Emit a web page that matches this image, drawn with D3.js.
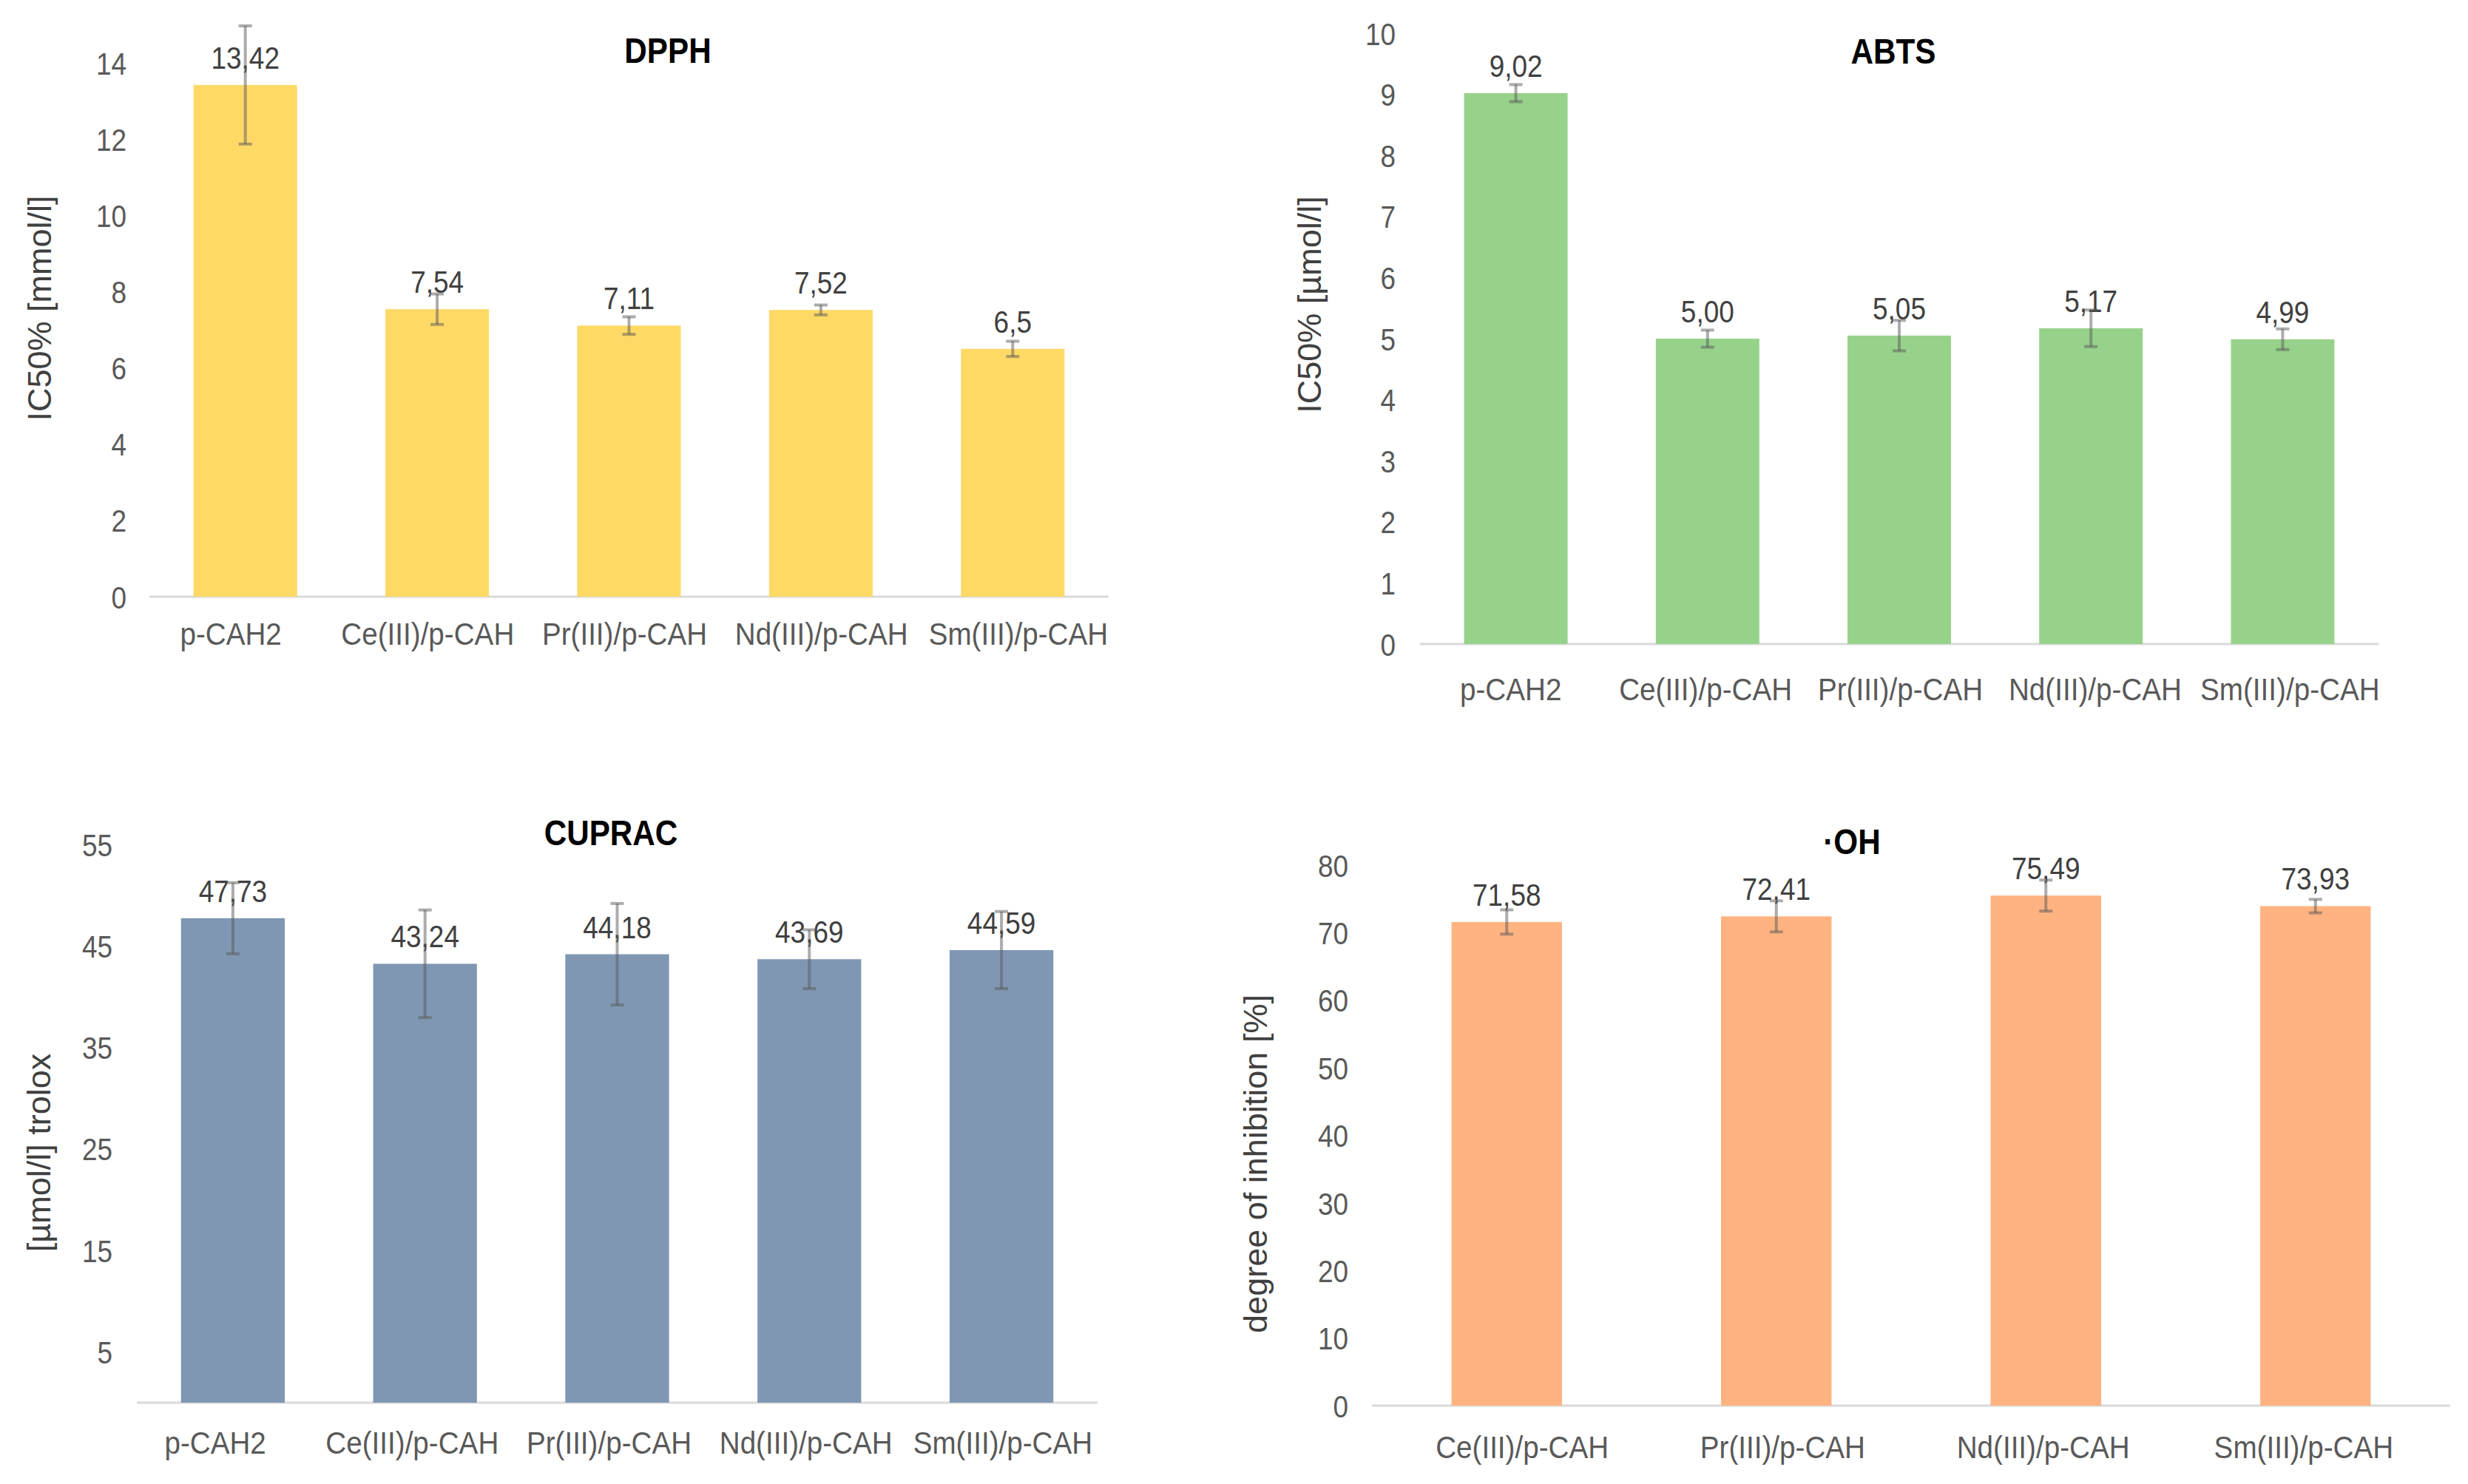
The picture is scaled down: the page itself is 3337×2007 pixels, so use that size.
<!DOCTYPE html>
<html>
<head>
<meta charset="utf-8">
<script src="https://cdn.jsdelivr.net/npm/d3@7"></script>
<style>
  html, body { margin: 0; padding: 0; background: #ffffff; }
  svg { display: block; }
</style>
</head>
<body>
<svg id="chart" width="3337" height="2007"></svg>
<script>
// ---------------- DATA ----------------
const categories5 = ["p-CAH2", "Ce(III)/p-CAH", "Pr(III)/p-CAH", "Nd(III)/p-CAH", "Sm(III)/p-CAH"];
const categories4 = ["Ce(III)/p-CAH", "Pr(III)/p-CAH", "Nd(III)/p-CAH", "Sm(III)/p-CAH"];

const dpphValues = [13.42, 7.54, 7.11, 7.52, 6.5];
const dpphErrors = [1.55, 0.40, 0.23, 0.13, 0.20];
const dpphLabels = ["13,42", "7,54", "7,11", "7,52", "6,5"];
const dpphTicks = [0, 2, 4, 6, 8, 10, 12, 14];

const abtsValues = [9.02, 5.00, 5.05, 5.17, 4.99];
const abtsErrors = [0.14, 0.14, 0.25, 0.30, 0.17];
const abtsLabels = ["9,02", "5,00", "5,05", "5,17", "4,99"];
const abtsTicks = [0, 1, 2, 3, 4, 5, 6, 7, 8, 9, 10];

const cupracValues = [47.73, 43.24, 44.18, 43.69, 44.59];
const cupracErrors = [3.5, 5.3, 5.0, 2.9, 3.8];
const cupracLabels = ["47,73", "43,24", "44,18", "43,69", "44,59"];
const cupracTicks = [5, 15, 25, 35, 45, 55];

const ohValues = [71.58, 72.41, 75.49, 73.93];
const ohErrors = [1.8, 2.3, 2.3, 1.0];
const ohLabels = ["71,58", "72,41", "75,49", "73,93"];
const ohTicks = [0, 10, 20, 30, 40, 50, 60, 70, 80];

// ---------------- LAYOUT ----------------
const SX = 0.88; // horizontal text compression seen in the reference
const SXCAT = 0.92;
const FONT = "'Liberation Sans', Arial, Helvetica, sans-serif";

const panels = [
  { title: "DPPH", yLabel: "IC50% [mmol/l]", cats: categories5, values: dpphValues, errors: dpphErrors,
    labels: dpphLabels, ticks: dpphTicks, domain: [0, 14], color: "#FFD966",
    x0: 202, x1: 1499, yBase: 807, yTop: 85, pad: 0.46, catRange: [179, 1510],
    tickRight: 171, titleX: 903, titleY: 85, catY: 872, yLabX: 53, yLabY: 417 },
  { title: "ABTS", yLabel: "IC50% [µmol/l]", cats: categories5, values: abtsValues, errors: abtsErrors,
    labels: abtsLabels, ticks: abtsTicks, domain: [0, 10], color: "#97D28B",
    x0: 1920, x1: 3216, yBase: 871, yTop: 45, pad: 0.46, catRange: [1911, 3228],
    tickRight: 1887, titleX: 2560, titleY: 86, catY: 947, yLabX: 1770, yLabY: 412 },
  { title: "CUPRAC", yLabel: "[µmol/l] trolox", cats: categories5, values: cupracValues, errors: cupracErrors,
    labels: cupracLabels, ticks: cupracTicks, domain: [0, 55], color: "#7F97B2",
    x0: 185, x1: 1484, yBase: 1897, yTop: 1142, pad: 0.46, catRange: [158, 1489],
    tickRight: 152, titleX: 826, titleY: 1143, catY: 1966, yLabX: 52, yLabY: 1559 },
  { title: "·OH", yLabel: "degree of inhibition [%]", cats: categories4, values: ohValues, errors: ohErrors,
    labels: ohLabels, ticks: ohTicks, domain: [0, 80], color: "#FFB381",
    x0: 1855, x1: 3313, yBase: 1901, yTop: 1170, pad: 0.59, catRange: [1882, 3291],
    tickRight: 1823, titleX: 2504, titleY: 1155, catY: 1972, yLabX: 1697, yLabY: 1574 }
];

const svg = d3.select("#chart");

function hText(g, x, y, str, size, fill, weight, sx) {
  return g.append("text")
    .attr("transform", `translate(${x},${y}) scale(${sx || SX},1)`)
    .attr("text-anchor", "middle")
    .attr("font-family", FONT)
    .attr("font-size", size)
    .attr("font-weight", weight || "normal")
    .attr("fill", fill)
    .text(str);
}

panels.forEach(p => {
  const g = svg.append("g");
  const x = d3.scaleBand().domain(p.cats).range([p.x0, p.x1])
    .paddingInner(p.pad).paddingOuter(p.pad / 2);
  const xl = d3.scaleBand().domain(p.cats).range(p.catRange);
  const y = d3.scaleLinear().domain(p.domain).range([p.yBase, p.yTop]);

  // y axis (labels only)
  const tickPad = p.x0 - p.tickRight;
  const axis = d3.axisLeft(y).tickValues(p.ticks).tickSize(0).tickPadding(tickPad)
    .tickFormat(d3.format("d"));
  const ag = g.append("g").attr("transform", `translate(${p.x0},0)`).call(axis);
  ag.select(".domain").remove();
  ag.selectAll("text")
    .attr("font-family", FONT)
    .attr("font-size", 42)
    .attr("fill", "#595959")
    .attr("x", -tickPad / SX)
    .attr("dy", "0.36em")
    .attr("transform", `scale(${SX},1)`);

  // baseline
  g.append("line")
    .attr("x1", p.x0).attr("x2", p.x1)
    .attr("y1", y(0)).attr("y2", y(0))
    .attr("stroke", "#D9D9D9").attr("stroke-width", 3);

  // bars
  g.selectAll("rect.bar").data(p.values).join("rect")
    .attr("class", "bar")
    .attr("x", (d, i) => x(p.cats[i]))
    .attr("width", x.bandwidth())
    .attr("y", d => y(d))
    .attr("height", d => y(0) - y(d))
    .attr("fill", p.color);

  // value labels
  p.values.forEach((v, i) => {
    hText(g, x(p.cats[i]) + x.bandwidth() / 2, y(v) - 22, p.labels[i], 42, "#404040");
  });

  // error bars
  p.values.forEach((v, i) => {
    const cx = x(p.cats[i]) + x.bandwidth() / 2;
    const e = p.errors[i];
    const eg = g.append("g").attr("stroke", "#595959").attr("stroke-opacity", 0.5).attr("stroke-width", 4);
    eg.append("line").attr("x1", cx).attr("x2", cx).attr("y1", y(v + e)).attr("y2", y(v - e));
    eg.append("line").attr("x1", cx - 9).attr("x2", cx + 9).attr("y1", y(v + e)).attr("y2", y(v + e));
    eg.append("line").attr("x1", cx - 9).attr("x2", cx + 9).attr("y1", y(v - e)).attr("y2", y(v - e));
  });

  // category labels
  p.cats.forEach(c => {
    hText(g, xl(c) + xl.bandwidth() / 2, p.catY, c, 42, "#595959", "normal", SXCAT);
  });

  // title
  hText(g, p.titleX, p.titleY, p.title, 48, "#000000", "bold");

  // y-axis title
  g.append("text")
    .attr("transform", `translate(${p.yLabX},${p.yLabY}) rotate(-90)`)
    .attr("text-anchor", "middle")
    .attr("dominant-baseline", "central")
    .attr("font-family", FONT)
    .attr("font-size", 45)
    .attr("fill", "#404040")
    .text(p.yLabel);
});
</script>
</body>
</html>
